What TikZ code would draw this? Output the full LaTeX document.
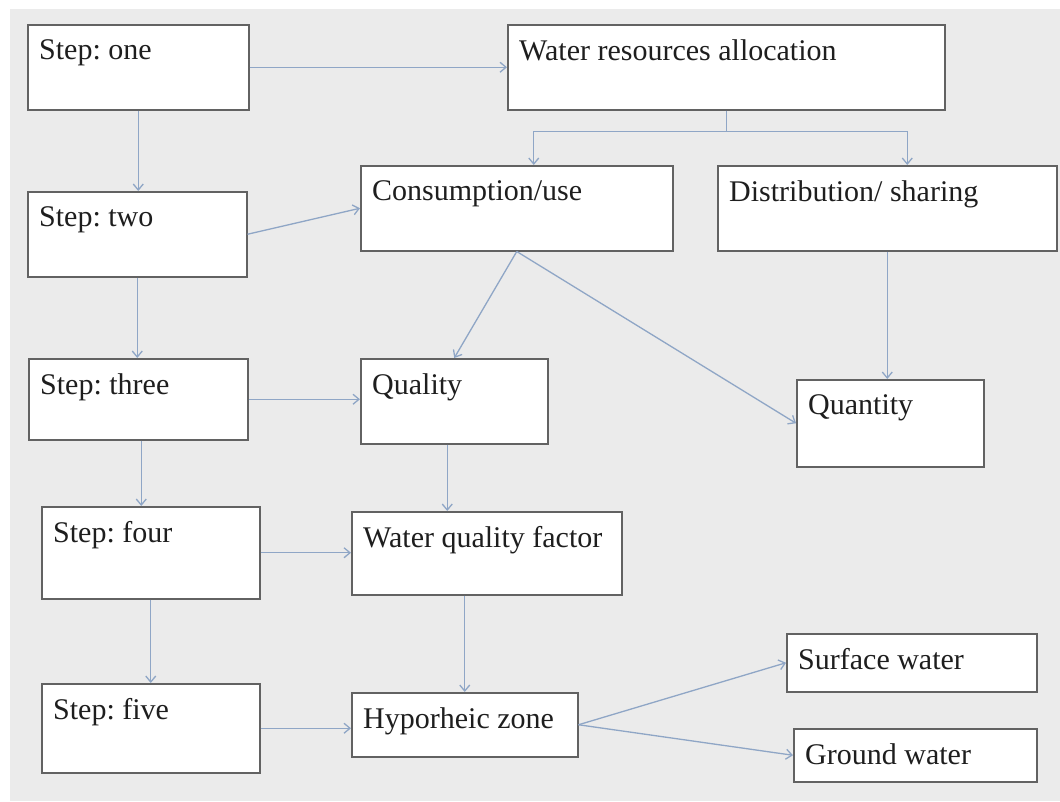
\documentclass[tikz,border=0pt]{standalone}
\usepackage{fontspec}
\setmainfont{Liberation Serif}
\usepackage{tikz}
\usetikzlibrary{arrows.meta}
\definecolor{bggray}{HTML}{EBEBEB}
\definecolor{boxgray}{HTML}{626262}
\definecolor{flowblue}{HTML}{8FA6C6}
\definecolor{txtgray}{HTML}{1E1E1E}
\frenchspacing
\tikzset{%
    box/.style 2 args={%
        draw=boxgray, fill=white, line width=1.5pt, inner sep=0pt,
        anchor=north west, minimum width=#1, minimum height=#2
    },
    lbl/.style={anchor=north west, inner sep=0pt, xshift=12pt, yshift=-15pt,
        text=txtgray, font=\rmfamily\fontsize{30}{34}\selectfont},
    flow/.style={draw=flowblue, line width=1.3pt,
        -{Straight Barb[length=6pt,width=10pt]}}
}

\begin{document}
\begin{tikzpicture}[x=1pt,y=-1pt]
\useasboundingbox (0,0) rectangle (1060,801);
\fill[white] (0,0) rectangle (1060,801);
\fill[bggray] (10,9) rectangle (1060,801);
% left column
\node[box={221pt}{85pt}, label={[lbl]north west:{Step: one}}]   (s1) at (27,24) {};
\node[box={219pt}{85pt}, label={[lbl]north west:{Step: two}}]   (s2) at (27,191) {};
\node[box={219pt}{81pt}, label={[lbl]north west:{Step: three}}] (s3) at (28,358) {};
\node[box={218pt}{92pt}, label={[lbl]north west:{Step: four}}]  (s4) at (41,506) {};
\node[box={218pt}{89pt}, label={[lbl]north west:{Step: five}}]  (s5) at (41,683) {};
% right part
\node[box={437pt}{85pt}, label={[lbl]north west:{Water resources allocation}}] (wra) at (507,24) {};
\node[box={312pt}{85pt}, label={[lbl]north west:{Consumption/use}}]          (cons) at (360,165) {};
\node[box={339pt}{85pt}, label={[lbl]north west:{Distribution/ sharing}}]    (dist) at (717,165) {};
\node[box={187pt}{85pt}, label={[lbl]north west:{Quality}}]                  (qual) at (360,358) {};
\node[box={187pt}{87pt}, label={[lbl]north west:{Quantity}}]                 (quan) at (796,379) {};
\node[box={270pt}{83pt}, label={[lbl]north west:{Water quality factor}}]     (wqf) at (351,511) {};
\node[box={226pt}{64pt}, label={[lbl]north west:{Hyporheic zone}}]           (hyp) at (351,692) {};
\node[box={250pt}{58pt}, label={[lbl]north west:{Surface water}}]            (surf) at (786,633) {};
\node[box={243pt}{53pt}, label={[lbl]north west:{Ground water}}]             (grnd) at (793,728) {};
% steps
\draw[flow] (s1.south) -- (s1.south |- s2.north);
\draw[flow] (s2.south) -- (s2.south |- s3.north);
\draw[flow] ([xshift=3pt]s3.south) -- ([xshift=3pt]s3.south |- s4.north);
\draw[flow] (s4.south) -- (s4.south |- s5.north);
% across
\draw[flow] (s1.east) -- (wra.west);
\draw[flow] (s2.east) -- (cons.west);
\draw[flow] (s3.east) -- (s3.east -| qual.west);
\draw[flow] (s4.east) -- (s4.east -| wqf.west);
\draw[flow] (s5.east) -- (s5.east -| hyp.west);
% branches
\draw[flow] (wra.south) -- ++(0,21) -| ([xshift=17pt]cons.north);
\draw[flow] (wra.south) -- ++(0,21) -| ([xshift=20pt]dist.north);
\draw[flow] (cons.south) -- (qual.north);
\draw[flow] (cons.south) -- (quan.west);
\draw[flow] (dist.south) -- (dist.south |- quan.north);
\draw[flow] ([xshift=-7pt]qual.south) -- ([xshift=-7pt]qual.south |- wqf.north);
\draw[flow] (hyp.north |- wqf.south) -- (hyp.north);
\draw[flow] (hyp.east) -- (surf.west);
\draw[flow] (hyp.east) -- (grnd.west);
\end{tikzpicture}
\end{document}
